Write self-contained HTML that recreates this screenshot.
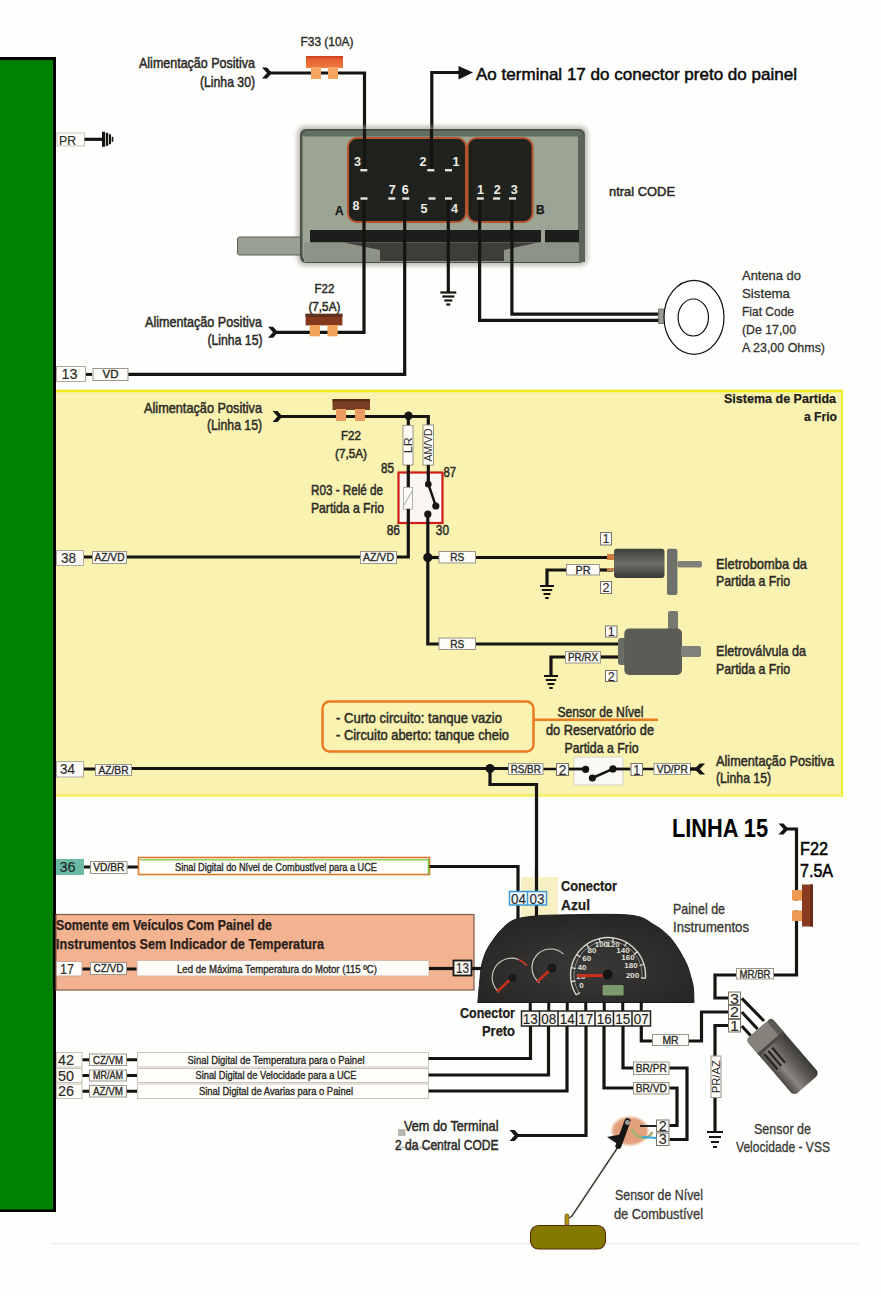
<!DOCTYPE html><html><head><meta charset="utf-8"><style>html,body{margin:0;padding:0;background:#fefefc;}svg{display:block;font-family:"Liberation Sans",sans-serif;}</style></head><body>
<svg width="881" height="1296" viewBox="0 0 881 1296">
<defs><linearGradient id="fuseR" x1="0" y1="0" x2="0" y2="1"><stop offset="0" stop-color="#e4552e"/><stop offset="1" stop-color="#f07a3c"/></linearGradient><linearGradient id="cyl" x1="0" y1="0" x2="0" y2="1"><stop offset="0" stop-color="#3c3e39"/><stop offset="0.5" stop-color="#6c6e67"/><stop offset="1" stop-color="#383a35"/></linearGradient><radialGradient id="dash" cx="0.5" cy="0.6" r="0.7"><stop offset="0" stop-color="#3a3937"/><stop offset="1" stop-color="#242322"/></radialGradient><linearGradient id="cyl2" x1="0" y1="0" x2="0" y2="1"><stop offset="0" stop-color="#3a3836"/><stop offset="0.35" stop-color="#5e5b57"/><stop offset="0.7" stop-color="#8a8680"/><stop offset="1" stop-color="#4a4744"/></linearGradient><filter id="blur2"><feGaussianBlur stdDeviation="2"/></filter><filter id="blur1"><feGaussianBlur stdDeviation="1"/></filter></defs>
<rect x="0" y="0" width="881" height="1296" fill="#fefefc"/>
<rect x="0" y="57" width="56" height="1155" fill="#000"/>
<rect x="0" y="60" width="53" height="1149.5" fill="#008000"/>
<rect x="57" y="133" width="27.5" height="13" fill="#fdfdfb" stroke="#c8c4bc" stroke-width="1"/>
<text x="59" y="144.5" font-size="13" fill="#2b2a26" stroke="#2b2a26" stroke-width="0.15" text-anchor="start" textLength="17" lengthAdjust="spacingAndGlyphs">PR</text>
<line x1="84.5" y1="139.3" x2="103" y2="139.3" stroke="#151412" stroke-width="3.2" stroke-linecap="butt"/>
<line x1="103.5" y1="131.8" x2="103.5" y2="146.8" stroke="#151412" stroke-width="3" stroke-linecap="butt"/>
<line x1="107" y1="132.8" x2="107" y2="145.8" stroke="#151412" stroke-width="2.5" stroke-linecap="butt"/>
<line x1="110" y1="134.3" x2="110" y2="144.3" stroke="#151412" stroke-width="2" stroke-linecap="butt"/>
<line x1="112.5" y1="136.8" x2="112.5" y2="141.8" stroke="#151412" stroke-width="1.6" stroke-linecap="butt"/>
<text x="300.5" y="45.8" font-size="12" fill="#2b2a26" stroke="#2b2a26" stroke-width="0.35" text-anchor="start" textLength="53" lengthAdjust="spacingAndGlyphs">F33 (10A)</text>
<text x="139" y="68" font-size="14.5" fill="#2b2a26" stroke="#2b2a26" stroke-width="0.5" text-anchor="start" textLength="116" lengthAdjust="spacingAndGlyphs">Alimentação Positiva</text>
<text x="200" y="87" font-size="14.5" fill="#2b2a26" stroke="#2b2a26" stroke-width="0.5" text-anchor="start" textLength="55" lengthAdjust="spacingAndGlyphs">(Linha 30)</text>
<polyline points="268,73 364.5,73 364.5,168" fill="none" stroke="#151412" stroke-width="3.2" stroke-linejoin="miter" stroke-linecap="butt"/>
<path d="M262,67.5 L267,67.5 L272,73 L267,78.5 L262,78.5 L267,73 Z" fill="#151412"/>
<rect x="306" y="56" width="37" height="12" fill="url(#fuseR)"/>
<rect x="306" y="56" width="37" height="2" fill="#d24522"/>
<rect x="311" y="67" width="10" height="12" fill="#f4a660"/>
<rect x="328" y="67" width="10" height="12" fill="#f4a660"/>
<polyline points="431.8,168 431.8,72.5 460,72.5" fill="none" stroke="#151412" stroke-width="3.2" stroke-linejoin="miter" stroke-linecap="butt"/>
<path d="M458.5,66 L473,72.5 L458.5,79.5 Z" fill="#151412"/>
<text x="476" y="80.2" font-size="17" fill="#0a0a0a" stroke="#0a0a0a" stroke-width="0.5" text-anchor="start" textLength="321" lengthAdjust="spacingAndGlyphs">Ao terminal 17 do conector preto do painel</text>
<rect x="297" y="126" width="291" height="140" rx="8" fill="#9a948e" filter="url(#blur2)" opacity="0.6"/>
<rect x="237.5" y="237" width="66.5" height="18" fill="#9aa192" stroke="#5b6055" stroke-width="1" rx="2"/>
<rect x="300" y="129" width="285" height="134" rx="6" fill="#4a5447"/>
<rect x="302.5" y="131.5" width="280" height="129" rx="5" fill="#9ca494"/>
<rect x="302.5" y="131.5" width="280" height="5" rx="3" fill="#5f6d5e"/>
<rect x="578" y="135" width="7" height="127" fill="#5e635a"/>
<rect x="348" y="138" width="118" height="84" rx="9" fill="#1f201c" stroke="#b4552e" stroke-width="2"/>
<rect x="467.5" y="138" width="65" height="84" rx="9" fill="#1f201c" stroke="#b4552e" stroke-width="2"/>
<rect x="352" y="142" width="110" height="76" fill="#20221e"/>
<rect x="472" y="142" width="57" height="76" fill="#20221e"/>
<rect x="310" y="230" width="231" height="12.5" fill="#1d1e1b"/>
<rect x="545" y="230" width="34" height="12.5" fill="#1d1e1b"/>
<rect x="304" y="242.5" width="275" height="19.5" fill="#8d9386"/>
<path d="M344,242.5 L538,242.5 L504,250 L504,261 L380,261 L380,250 Z" fill="#3e3d38"/>
<polyline points="364,198 364,332.3 274,332.3" fill="none" stroke="#151412" stroke-width="3.2" stroke-linejoin="miter" stroke-linecap="butt"/>
<path d="M268,326.8 L273,326.8 L278,332.3 L273,337.8 L268,337.8 L273,332.3 Z" fill="#151412"/>
<polyline points="404.7,198 404.7,374.4 128,374.4" fill="none" stroke="#151412" stroke-width="3.2" stroke-linejoin="miter" stroke-linecap="butt"/>
<polyline points="448.3,198 448.3,292" fill="none" stroke="#151412" stroke-width="3.2" stroke-linejoin="miter" stroke-linecap="butt"/>
<line x1="440.3" y1="292.5" x2="456.3" y2="292.5" stroke="#151412" stroke-width="2.2" stroke-linecap="butt"/>
<line x1="442.3" y1="296.5" x2="454.3" y2="296.5" stroke="#151412" stroke-width="2.2" stroke-linecap="butt"/>
<line x1="444.3" y1="300.5" x2="452.3" y2="300.5" stroke="#151412" stroke-width="2.2" stroke-linecap="butt"/>
<line x1="446.3" y1="304.5" x2="450.3" y2="304.5" stroke="#151412" stroke-width="2.2" stroke-linecap="butt"/>
<polyline points="479.6,198 479.6,320.3 660,320.3" fill="none" stroke="#151412" stroke-width="3.2" stroke-linejoin="miter" stroke-linecap="butt"/>
<polyline points="511.9,198 511.9,314.2 660,314.2" fill="none" stroke="#151412" stroke-width="3.2" stroke-linejoin="miter" stroke-linecap="butt"/>
<polyline points="364.5,129 364.5,170" fill="none" stroke="#151412" stroke-width="3.2" stroke-linejoin="miter" stroke-linecap="butt"/>
<polyline points="431.5,129 431.5,170" fill="none" stroke="#151412" stroke-width="3.2" stroke-linejoin="miter" stroke-linecap="butt"/>
<rect x="360.3" y="169.0" width="7.0" height="2.3999999999999773" fill="#e4e4dc"/>
<rect x="427.3" y="169.0" width="7.0" height="2.3999999999999773" fill="#e4e4dc"/>
<rect x="445.0" y="169.0" width="7.0" height="2.3999999999999773" fill="#e4e4dc"/>
<rect x="360.5" y="197.3" width="7.0" height="2.3999999999999773" fill="#e4e4dc"/>
<rect x="388.3" y="197.3" width="7.0" height="2.3999999999999773" fill="#e4e4dc"/>
<rect x="402.3" y="197.3" width="7.0" height="2.3999999999999773" fill="#e4e4dc"/>
<rect x="428.5" y="197.3" width="7.0" height="2.3999999999999773" fill="#e4e4dc"/>
<rect x="445.0" y="197.3" width="7.0" height="2.3999999999999773" fill="#e4e4dc"/>
<rect x="476.8" y="197.3" width="7.0" height="2.3999999999999773" fill="#e4e4dc"/>
<rect x="493.1" y="197.3" width="7.0" height="2.3999999999999773" fill="#e4e4dc"/>
<rect x="509.0" y="197.3" width="7.0" height="2.3999999999999773" fill="#e4e4dc"/>
<text x="354" y="165.6" font-size="12.5" font-weight="bold" fill="#eeeee6" text-anchor="start" textLength="7" lengthAdjust="spacingAndGlyphs">3</text>
<text x="419.5" y="165.6" font-size="12.5" font-weight="bold" fill="#eeeee6" text-anchor="start" textLength="7" lengthAdjust="spacingAndGlyphs">2</text>
<text x="452.4" y="165.6" font-size="12.5" font-weight="bold" fill="#eeeee6" text-anchor="start" textLength="7" lengthAdjust="spacingAndGlyphs">1</text>
<text x="388.8" y="193.6" font-size="12.5" font-weight="bold" fill="#eeeee6" text-anchor="start" textLength="7" lengthAdjust="spacingAndGlyphs">7</text>
<text x="401.7" y="193.6" font-size="12.5" font-weight="bold" fill="#eeeee6" text-anchor="start" textLength="7" lengthAdjust="spacingAndGlyphs">6</text>
<text x="352.5" y="210" font-size="12.5" font-weight="bold" fill="#eeeee6" text-anchor="start" textLength="7" lengthAdjust="spacingAndGlyphs">8</text>
<text x="420.6" y="213.3" font-size="12.5" font-weight="bold" fill="#eeeee6" text-anchor="start" textLength="7" lengthAdjust="spacingAndGlyphs">5</text>
<text x="451" y="213.3" font-size="12.5" font-weight="bold" fill="#eeeee6" text-anchor="start" textLength="7" lengthAdjust="spacingAndGlyphs">4</text>
<text x="477" y="193.6" font-size="12.5" font-weight="bold" fill="#eeeee6" text-anchor="start" textLength="7" lengthAdjust="spacingAndGlyphs">1</text>
<text x="493.7" y="193.6" font-size="12.5" font-weight="bold" fill="#eeeee6" text-anchor="start" textLength="7" lengthAdjust="spacingAndGlyphs">2</text>
<text x="510.7" y="193.6" font-size="12.5" font-weight="bold" fill="#eeeee6" text-anchor="start" textLength="7" lengthAdjust="spacingAndGlyphs">3</text>
<text x="335" y="215" font-size="12" font-weight="bold" fill="#1a1a18" stroke="#1a1a18" stroke-width="0.25" text-anchor="start">A</text>
<text x="536" y="214" font-size="12" font-weight="bold" fill="#1a1a18" stroke="#1a1a18" stroke-width="0.25" text-anchor="start">B</text>
<text x="609" y="196" font-size="13" fill="#2b2a26" stroke="#2b2a26" stroke-width="0.5" text-anchor="start" textLength="66" lengthAdjust="spacingAndGlyphs">ntral CODE</text>
<text x="314.5" y="292.7" font-size="13" fill="#2b2a26" stroke="#2b2a26" stroke-width="0.5" text-anchor="start" textLength="19.8" lengthAdjust="spacingAndGlyphs">F22</text>
<text x="308.4" y="310.7" font-size="13" fill="#2b2a26" stroke="#2b2a26" stroke-width="0.5" text-anchor="start" textLength="32" lengthAdjust="spacingAndGlyphs">(7,5A)</text>
<rect x="305.6" y="313.8" width="36.799999999999955" height="11.599999999999966" fill="#84391f"/>
<rect x="305.6" y="313.8" width="36.799999999999955" height="3.1999999999999886" fill="#5e3020"/>
<rect x="309.7" y="325" width="10.300000000000011" height="11.300000000000011" fill="#f0a458"/>
<rect x="327.4" y="325" width="10.300000000000011" height="11.300000000000011" fill="#f0a458"/>
<text x="145" y="326.5" font-size="14.5" fill="#2b2a26" stroke="#2b2a26" stroke-width="0.5" text-anchor="start" textLength="117" lengthAdjust="spacingAndGlyphs">Alimentação Positiva</text>
<text x="207.5" y="344.5" font-size="14.5" fill="#2b2a26" stroke="#2b2a26" stroke-width="0.5" text-anchor="start" textLength="55" lengthAdjust="spacingAndGlyphs">(Linha 15)</text>
<rect x="658.5" y="309" width="6" height="14.5" fill="#9a9a94" stroke="#666" stroke-width="0.8"/>
<ellipse cx="694" cy="317.3" rx="30" ry="37" fill="#fff" stroke="#111" stroke-width="1.2"/>
<ellipse cx="693.3" cy="317.5" rx="15.2" ry="18.5" fill="#fff" stroke="#111" stroke-width="1.2"/>
<text x="742" y="279.5" font-size="13.5" fill="#33322e" stroke="#33322e" stroke-width="0.3" text-anchor="start" textLength="59" lengthAdjust="spacingAndGlyphs">Antena do</text>
<text x="742" y="297.7" font-size="13.5" fill="#33322e" stroke="#33322e" stroke-width="0.3" text-anchor="start" textLength="48" lengthAdjust="spacingAndGlyphs">Sistema</text>
<text x="742" y="315.9" font-size="13.5" fill="#33322e" stroke="#33322e" stroke-width="0.3" text-anchor="start" textLength="52" lengthAdjust="spacingAndGlyphs">Fiat Code</text>
<text x="742" y="334.1" font-size="13.5" fill="#33322e" stroke="#33322e" stroke-width="0.3" text-anchor="start" textLength="54" lengthAdjust="spacingAndGlyphs">(De 17,00</text>
<text x="742" y="352.3" font-size="13.5" fill="#33322e" stroke="#33322e" stroke-width="0.3" text-anchor="start" textLength="83" lengthAdjust="spacingAndGlyphs">A 23,00 Ohms)</text>
<rect x="56.5" y="366.5" width="29.0" height="15.0" fill="#fdfcf6" stroke="#b0aca0" stroke-width="1"/>
<text x="69.5" y="379.4" font-size="15" fill="#2b2a26" stroke="#2b2a26" stroke-width="0.15" text-anchor="middle" textLength="16" lengthAdjust="spacingAndGlyphs">13</text>
<line x1="86" y1="374.4" x2="92" y2="374.4" stroke="#151412" stroke-width="3" stroke-linecap="butt"/>
<rect x="93.0" y="368.5" width="35.0" height="12.0" fill="#fdfcf6" stroke="#9a968c" stroke-width="1"/>
<text x="110.5" y="378.46" font-size="11" fill="#2b2a26" stroke="#2b2a26" stroke-width="0.35" text-anchor="middle" textLength="16" lengthAdjust="spacingAndGlyphs">VD</text>
<rect x="56" y="390" width="786" height="406" fill="#f9f2b0"/>
<line x1="56" y1="391" x2="843" y2="391" stroke="#f0ec1c" stroke-width="2.6" stroke-linecap="butt"/>
<line x1="842" y1="390" x2="842" y2="797" stroke="#f0ec30" stroke-width="2.2" stroke-linecap="butt"/>
<line x1="56" y1="795.5" x2="843" y2="795.5" stroke="#f1ec60" stroke-width="2.6" stroke-linecap="butt"/>
<text x="724" y="403" font-size="13" font-weight="bold" fill="#1e1d1a" stroke="#1e1d1a" stroke-width="0.25" text-anchor="start" textLength="112" lengthAdjust="spacingAndGlyphs">Sistema de Partida</text>
<text x="804" y="421" font-size="13" font-weight="bold" fill="#1e1d1a" stroke="#1e1d1a" stroke-width="0.25" text-anchor="start" textLength="33" lengthAdjust="spacingAndGlyphs">a Frio</text>
<text x="144" y="413" font-size="14.5" fill="#2b2a26" stroke="#2b2a26" stroke-width="0.5" text-anchor="start" textLength="118" lengthAdjust="spacingAndGlyphs">Alimentação Positiva</text>
<text x="207" y="430" font-size="14.5" fill="#2b2a26" stroke="#2b2a26" stroke-width="0.5" text-anchor="start" textLength="55" lengthAdjust="spacingAndGlyphs">(Linha 15)</text>
<polyline points="278,416.5 408.5,416.5 428.3,416.5 428.3,425" fill="none" stroke="#151412" stroke-width="3.2" stroke-linejoin="miter" stroke-linecap="butt"/>
<path d="M272.5,411.0 L277.5,411.0 L282.5,416.5 L277.5,422.0 L272.5,422.0 L277.5,416.5 Z" fill="#151412"/>
<polyline points="408.3,416 408.3,425" fill="none" stroke="#151412" stroke-width="3.2" stroke-linejoin="miter" stroke-linecap="butt"/>
<rect x="332.5" y="399" width="37.5" height="11" fill="#7a3f24"/>
<rect x="332.5" y="399" width="37.5" height="2.5" fill="#5a2c16"/>
<rect x="336" y="409" width="10" height="12" fill="#eb9c62"/>
<rect x="355" y="409" width="10" height="12" fill="#eb9c62"/>
<circle cx="408.5" cy="415.8" r="4.2" fill="#151412"/>
<text x="341" y="440" font-size="13" fill="#2b2a26" stroke="#2b2a26" stroke-width="0.5" text-anchor="start" textLength="20" lengthAdjust="spacingAndGlyphs">F22</text>
<text x="335" y="458" font-size="13" fill="#2b2a26" stroke="#2b2a26" stroke-width="0.5" text-anchor="start" textLength="32" lengthAdjust="spacingAndGlyphs">(7,5A)</text>
<rect x="403.0" y="425.5" width="10.0" height="39.5" fill="#fdfcf6" stroke="#9a968c" stroke-width="1"/>
<text transform="translate(411.78,445.25) rotate(-90)" font-size="10.5" fill="#2b2a26" text-anchor="middle" textLength="16" lengthAdjust="spacingAndGlyphs">LR</text>
<rect x="423.0" y="425.0" width="10.5" height="40.0" fill="#fdfcf6" stroke="#9a968c" stroke-width="1"/>
<text transform="translate(432.03,445.0) rotate(-90)" font-size="10.5" fill="#2b2a26" text-anchor="middle" textLength="33" lengthAdjust="spacingAndGlyphs">AM/VD</text>
<text x="381" y="472.5" font-size="14" fill="#2b2a26" stroke="#2b2a26" stroke-width="0.5" text-anchor="start" textLength="13" lengthAdjust="spacingAndGlyphs">85</text>
<text x="443.4" y="476.5" font-size="14" fill="#2b2a26" stroke="#2b2a26" stroke-width="0.5" text-anchor="start" textLength="12.5" lengthAdjust="spacingAndGlyphs">87</text>
<text x="386.7" y="535.2" font-size="14" fill="#2b2a26" stroke="#2b2a26" stroke-width="0.5" text-anchor="start" textLength="13.3" lengthAdjust="spacingAndGlyphs">86</text>
<text x="435.8" y="535.2" font-size="14" fill="#2b2a26" stroke="#2b2a26" stroke-width="0.5" text-anchor="start" textLength="13.2" lengthAdjust="spacingAndGlyphs">30</text>
<text x="311" y="495" font-size="14.5" fill="#2b2a26" stroke="#2b2a26" stroke-width="0.5" text-anchor="start" textLength="72" lengthAdjust="spacingAndGlyphs">R03 - Relé de</text>
<text x="311" y="513" font-size="14.5" fill="#2b2a26" stroke="#2b2a26" stroke-width="0.5" text-anchor="start" textLength="73" lengthAdjust="spacingAndGlyphs">Partida a Frio</text>
<rect x="398.5" y="472.5" width="44.0" height="50.5" fill="#faf6f4" stroke="#d01c18" stroke-width="2.2"/>
<polyline points="408.3,465 408.3,487.5" fill="none" stroke="#151412" stroke-width="3.2" stroke-linejoin="miter" stroke-linecap="butt"/>
<polyline points="428.3,465 428.3,484" fill="none" stroke="#151412" stroke-width="3.2" stroke-linejoin="miter" stroke-linecap="butt"/>
<rect x="403.5" y="487.5" width="9" height="21.5" fill="#fdfcf8" stroke="#aaa" stroke-width="0.9"/>
<line x1="404" y1="505" x2="412" y2="491" stroke="#999" stroke-width="0.9" stroke-linecap="butt"/>
<polyline points="408.3,509 408.3,557 397,557" fill="none" stroke="#151412" stroke-width="3.2" stroke-linejoin="miter" stroke-linecap="butt"/>
<circle cx="428.3" cy="484.2" r="3.3" fill="#151412"/>
<line x1="428.5" y1="484.5" x2="435.8" y2="506" stroke="#151412" stroke-width="2.4" stroke-linecap="butt"/>
<circle cx="435.8" cy="506" r="3.6" fill="#151412"/>
<circle cx="427.8" cy="514.2" r="3.6" fill="#151412"/>
<polyline points="427.8,514 427.8,644 439,644" fill="none" stroke="#151412" stroke-width="3.2" stroke-linejoin="miter" stroke-linecap="butt"/>
<circle cx="427.8" cy="557.5" r="4.6" fill="#151412"/>
<polyline points="183,557 360,557" fill="none" stroke="#151412" stroke-width="3.2" stroke-linejoin="miter" stroke-linecap="butt"/>
<rect x="56.5" y="550.5" width="27.0" height="15.0" fill="#fdfcf6" stroke="#b0aca0" stroke-width="1"/>
<text x="68.5" y="563.04" font-size="14" fill="#2b2a26" stroke="#2b2a26" stroke-width="0.15" text-anchor="middle" textLength="15" lengthAdjust="spacingAndGlyphs">38</text>
<line x1="84" y1="557" x2="92" y2="557" stroke="#151412" stroke-width="3" stroke-linecap="butt"/>
<rect x="92.5" y="551.5" width="34.0" height="12.0" fill="#fdfcf6" stroke="#9a968c" stroke-width="1"/>
<text x="109.5" y="561.46" font-size="11" fill="#2b2a26" stroke="#2b2a26" stroke-width="0.35" text-anchor="middle" textLength="30" lengthAdjust="spacingAndGlyphs">AZ/VD</text>
<polyline points="127,557 183,557" fill="none" stroke="#151412" stroke-width="3.2" stroke-linejoin="miter" stroke-linecap="butt"/>
<rect x="360.5" y="551.5" width="36.0" height="12.0" fill="#fdfcf6" stroke="#9a968c" stroke-width="1"/>
<text x="378.5" y="561.46" font-size="11" fill="#2b2a26" stroke="#2b2a26" stroke-width="0.35" text-anchor="middle" textLength="31" lengthAdjust="spacingAndGlyphs">AZ/VD</text>
<polyline points="427.8,557.5 439,557.5" fill="none" stroke="#151412" stroke-width="3.2" stroke-linejoin="miter" stroke-linecap="butt"/>
<rect x="439.0" y="551.5" width="36.5" height="11.5" fill="#fdfcf6" stroke="#9a968c" stroke-width="1"/>
<text x="457.25" y="561.39" font-size="11.5" fill="#2b2a26" stroke="#2b2a26" stroke-width="0.35" text-anchor="middle" textLength="14" lengthAdjust="spacingAndGlyphs">RS</text>
<polyline points="476,557.5 613,557.5" fill="none" stroke="#151412" stroke-width="3.2" stroke-linejoin="miter" stroke-linecap="butt"/>
<rect x="600.5" y="532.5" width="11.0" height="12.5" fill="#fdfcf6" stroke="#77736a" stroke-width="1"/>
<text x="606.0" y="543.43" font-size="13" fill="#2b2a26" stroke="#2b2a26" stroke-width="0.1" text-anchor="middle" textLength="7" lengthAdjust="spacingAndGlyphs">1</text>
<rect x="600.5" y="581.5" width="11.0" height="12.0" fill="#fdfcf6" stroke="#77736a" stroke-width="1"/>
<text x="606.0" y="592.18" font-size="13" fill="#2b2a26" stroke="#2b2a26" stroke-width="0.1" text-anchor="middle" textLength="7" lengthAdjust="spacingAndGlyphs">2</text>
<rect x="566.5" y="564.5" width="33.0" height="10.5" fill="#fdfcf6" stroke="#9a968c" stroke-width="1"/>
<text x="583.0" y="573.71" font-size="11" fill="#2b2a26" stroke="#2b2a26" stroke-width="0.35" text-anchor="middle" textLength="15" lengthAdjust="spacingAndGlyphs">PR</text>
<polyline points="600,570 613,570" fill="none" stroke="#151412" stroke-width="3.2" stroke-linejoin="miter" stroke-linecap="butt"/>
<polyline points="566,570 547,570 547,585" fill="none" stroke="#151412" stroke-width="3.2" stroke-linejoin="miter" stroke-linecap="butt"/>
<line x1="540.0" y1="586" x2="554.0" y2="586" stroke="#151412" stroke-width="2" stroke-linecap="butt"/>
<line x1="541.75" y1="590" x2="552.25" y2="590" stroke="#151412" stroke-width="2" stroke-linecap="butt"/>
<line x1="543.5" y1="594" x2="550.5" y2="594" stroke="#151412" stroke-width="2" stroke-linecap="butt"/>
<line x1="545.25" y1="598" x2="548.75" y2="598" stroke="#151412" stroke-width="2" stroke-linecap="butt"/>
<rect x="607" y="554" width="7" height="6" fill="#d07a40"/>
<rect x="607" y="568" width="7" height="3" fill="#c08048"/>
<rect x="614" y="548.8" width="50.5" height="29.2" rx="3" fill="url(#cyl)"/>
<rect x="667" y="548.8" width="10.4" height="46.2" rx="2" fill="#6e706a"/>
<rect x="677.4" y="561" width="24.6" height="6.4" rx="2" fill="#80817a"/>
<text x="716" y="569" font-size="14.5" fill="#2b2a26" stroke="#2b2a26" stroke-width="0.5" text-anchor="start" textLength="91" lengthAdjust="spacingAndGlyphs">Eletrobomba da</text>
<text x="716" y="586" font-size="14.5" fill="#2b2a26" stroke="#2b2a26" stroke-width="0.5" text-anchor="start" textLength="74" lengthAdjust="spacingAndGlyphs">Partida a Frio</text>
<rect x="605.5" y="626.0" width="11.5" height="11.0" fill="#fdfcf6" stroke="#77736a" stroke-width="1"/>
<text x="611.25" y="636.18" font-size="13" fill="#2b2a26" stroke="#2b2a26" stroke-width="0.1" text-anchor="middle" textLength="7" lengthAdjust="spacingAndGlyphs">1</text>
<rect x="605.5" y="670.5" width="11.5" height="11.0" fill="#fdfcf6" stroke="#77736a" stroke-width="1"/>
<text x="611.25" y="680.68" font-size="13" fill="#2b2a26" stroke="#2b2a26" stroke-width="0.1" text-anchor="middle" textLength="7" lengthAdjust="spacingAndGlyphs">2</text>
<polyline points="476,644 621,644" fill="none" stroke="#151412" stroke-width="3.2" stroke-linejoin="miter" stroke-linecap="butt"/>
<rect x="439.0" y="638.0" width="36.5" height="11.5" fill="#fdfcf6" stroke="#9a968c" stroke-width="1"/>
<text x="457.25" y="647.89" font-size="11.5" fill="#2b2a26" stroke="#2b2a26" stroke-width="0.35" text-anchor="middle" textLength="14" lengthAdjust="spacingAndGlyphs">RS</text>
<rect x="565.5" y="651.5" width="35.0" height="11.5" fill="#fdfcf6" stroke="#9a968c" stroke-width="1"/>
<text x="583.0" y="661.21" font-size="11" fill="#2b2a26" stroke="#2b2a26" stroke-width="0.35" text-anchor="middle" textLength="30" lengthAdjust="spacingAndGlyphs">PR/RX</text>
<polyline points="601,657 621,657" fill="none" stroke="#151412" stroke-width="3.2" stroke-linejoin="miter" stroke-linecap="butt"/>
<polyline points="565,657 551,657 551,675" fill="none" stroke="#151412" stroke-width="3.2" stroke-linejoin="miter" stroke-linecap="butt"/>
<line x1="544.0" y1="676" x2="558.0" y2="676" stroke="#151412" stroke-width="2" stroke-linecap="butt"/>
<line x1="545.75" y1="680" x2="556.25" y2="680" stroke="#151412" stroke-width="2" stroke-linecap="butt"/>
<line x1="547.5" y1="684" x2="554.5" y2="684" stroke="#151412" stroke-width="2" stroke-linecap="butt"/>
<line x1="549.25" y1="688" x2="552.75" y2="688" stroke="#151412" stroke-width="2" stroke-linecap="butt"/>
<rect x="618" y="638" width="9" height="27" rx="3" fill="#6a6c66"/>
<rect x="668" y="611" width="10" height="20" rx="2" fill="#77786f"/>
<rect x="624.3" y="628.5" width="57.7" height="46.5" rx="5" fill="#5a5c55"/>
<rect x="681" y="646" width="20" height="11" rx="2" fill="#80817a"/>
<text x="716" y="656" font-size="14.5" fill="#2b2a26" stroke="#2b2a26" stroke-width="0.5" text-anchor="start" textLength="90" lengthAdjust="spacingAndGlyphs">Eletroválvula da</text>
<text x="716" y="674" font-size="14.5" fill="#2b2a26" stroke="#2b2a26" stroke-width="0.5" text-anchor="start" textLength="74" lengthAdjust="spacingAndGlyphs">Partida a Frio</text>
<rect x="322.5" y="701.5" width="211" height="50" rx="7" fill="none" stroke="#ec7a1e" stroke-width="2.5"/>
<line x1="533" y1="719.8" x2="658" y2="719.8" stroke="#ec7a1e" stroke-width="2.6" stroke-linecap="butt"/>
<text x="336" y="723" font-size="14.5" fill="#2b2a26" stroke="#2b2a26" stroke-width="0.5" text-anchor="start" textLength="166" lengthAdjust="spacingAndGlyphs">- Curto circuito: tanque vazio</text>
<text x="336" y="739.5" font-size="14.5" fill="#2b2a26" stroke="#2b2a26" stroke-width="0.5" text-anchor="start" textLength="173" lengthAdjust="spacingAndGlyphs">- Circuito aberto: tanque cheio</text>
<text x="557.5" y="716.5" font-size="14.5" fill="#2b2a26" stroke="#2b2a26" stroke-width="0.5" text-anchor="start" textLength="86" lengthAdjust="spacingAndGlyphs">Sensor de Nível</text>
<text x="546" y="735.3" font-size="14.5" fill="#2b2a26" stroke="#2b2a26" stroke-width="0.5" text-anchor="start" textLength="108" lengthAdjust="spacingAndGlyphs">do Reservatório de</text>
<text x="564.5" y="753" font-size="14.5" fill="#2b2a26" stroke="#2b2a26" stroke-width="0.5" text-anchor="start" textLength="74" lengthAdjust="spacingAndGlyphs">Partida a Frio</text>
<rect x="56.5" y="761.5" width="27.0" height="15.5" fill="#fdfcf6" stroke="#b0aca0" stroke-width="1"/>
<text x="67.5" y="774.29" font-size="14" fill="#2b2a26" stroke="#2b2a26" stroke-width="0.15" text-anchor="middle" textLength="15" lengthAdjust="spacingAndGlyphs">34</text>
<line x1="84" y1="769" x2="95" y2="769" stroke="#151412" stroke-width="3" stroke-linecap="butt"/>
<rect x="95.5" y="764.5" width="36.0" height="11.0" fill="#fdfcf6" stroke="#9a968c" stroke-width="1"/>
<text x="113.5" y="773.96" font-size="11" fill="#2b2a26" stroke="#2b2a26" stroke-width="0.35" text-anchor="middle" textLength="30" lengthAdjust="spacingAndGlyphs">AZ/BR</text>
<polyline points="132,768.5 508,768.5" fill="none" stroke="#151412" stroke-width="3.2" stroke-linejoin="miter" stroke-linecap="butt"/>
<circle cx="490" cy="768.5" r="4.5" fill="#151412"/>
<polyline points="490,768.5 490,784.5 536.5,784.5 536.5,920" fill="none" stroke="#151412" stroke-width="3.2" stroke-linejoin="miter" stroke-linecap="butt"/>
<rect x="508.5" y="763.5" width="34.5" height="11.0" fill="#fdfcf6" stroke="#9a968c" stroke-width="1"/>
<text x="525.75" y="772.96" font-size="11" fill="#2b2a26" stroke="#2b2a26" stroke-width="0.35" text-anchor="middle" textLength="30" lengthAdjust="spacingAndGlyphs">RS/BR</text>
<line x1="543.5" y1="769" x2="556" y2="769" stroke="#151412" stroke-width="2.5" stroke-linecap="butt"/>
<rect x="556.5" y="763.5" width="12.0" height="12.0" fill="#fdfcf6" stroke="#77736a" stroke-width="1"/>
<text x="562.5" y="774.72" font-size="14.5" fill="#2b2a26" stroke="#2b2a26" stroke-width="0.1" text-anchor="middle" textLength="8" lengthAdjust="spacingAndGlyphs">2</text>
<rect x="574" y="757" width="49" height="28" fill="#fbfaf4" stroke="#d8d4c4" stroke-width="1"/>
<line x1="569" y1="769" x2="585.6" y2="769" stroke="#151412" stroke-width="2.8" stroke-linecap="butt"/>
<circle cx="585.6" cy="769.3" r="3.6" fill="#151412"/>
<circle cx="592.4" cy="778" r="3.6" fill="#151412"/>
<line x1="592.4" y1="778" x2="612.9" y2="768.9" stroke="#151412" stroke-width="2.5" stroke-linecap="butt"/>
<circle cx="612.9" cy="768.9" r="3.6" fill="#151412"/>
<line x1="612.9" y1="769" x2="630.5" y2="769" stroke="#151412" stroke-width="2.8" stroke-linecap="butt"/>
<rect x="631.0" y="763.5" width="11.5" height="12.0" fill="#fdfcf6" stroke="#77736a" stroke-width="1"/>
<text x="636.75" y="774.72" font-size="14.5" fill="#2b2a26" stroke="#2b2a26" stroke-width="0.1" text-anchor="middle" textLength="7" lengthAdjust="spacingAndGlyphs">1</text>
<line x1="643" y1="769" x2="654" y2="769" stroke="#151412" stroke-width="2.5" stroke-linecap="butt"/>
<rect x="654.0" y="763.5" width="36.5" height="11.0" fill="#fdfcf6" stroke="#9a968c" stroke-width="1"/>
<text x="672.25" y="772.96" font-size="11" fill="#2b2a26" stroke="#2b2a26" stroke-width="0.35" text-anchor="middle" textLength="31" lengthAdjust="spacingAndGlyphs">VD/PR</text>
<line x1="690" y1="769" x2="700" y2="769" stroke="#151412" stroke-width="3.5" stroke-linecap="butt"/>
<path d="M705.1,763.5 L699.8,763.5 L694.5,769 L699.8,774.5 L705.1,774.5 L699.8,769 Z" fill="#151412"/>
<text x="716" y="766" font-size="14.5" fill="#2b2a26" stroke="#2b2a26" stroke-width="0.5" text-anchor="start" textLength="118" lengthAdjust="spacingAndGlyphs">Alimentação Positiva</text>
<text x="716" y="783" font-size="14.5" fill="#2b2a26" stroke="#2b2a26" stroke-width="0.5" text-anchor="start" textLength="55" lengthAdjust="spacingAndGlyphs">(Linha 15)</text>
<rect x="56" y="859" width="28" height="16" fill="#6cbaa6"/>
<text x="67.5" y="872" font-size="14" fill="#1e2a28" stroke="#1e2a28" stroke-width="0.15" text-anchor="middle" textLength="16" lengthAdjust="spacingAndGlyphs">36</text>
<line x1="84" y1="867" x2="90" y2="867" stroke="#151412" stroke-width="3" stroke-linecap="butt"/>
<rect x="90.5" y="861.5" width="36.5" height="12.0" fill="#fdfcf6" stroke="#9a968c" stroke-width="1"/>
<text x="108.75" y="871.46" font-size="11" fill="#2b2a26" stroke="#2b2a26" stroke-width="0.35" text-anchor="middle" textLength="31" lengthAdjust="spacingAndGlyphs">VD/BR</text>
<line x1="127.5" y1="867" x2="138" y2="867" stroke="#151412" stroke-width="3" stroke-linecap="butt"/>
<rect x="138.5" y="857.5" width="291" height="17" fill="#fffefa" stroke="#d8782a" stroke-width="1.6"/>
<line x1="140" y1="859.8" x2="428" y2="859.8" stroke="#7cc640" stroke-width="1.3" stroke-linecap="butt"/>
<line x1="428.5" y1="859" x2="428.5" y2="874" stroke="#7cc640" stroke-width="1.5" stroke-linecap="butt"/>
<text x="276" y="870.5" font-size="10.5" fill="#2b2a26" stroke="#2b2a26" stroke-width="0.35" text-anchor="middle" textLength="202" lengthAdjust="spacingAndGlyphs">Sinal Digital do Nível de Combustível para a UCE</text>
<rect x="521" y="877" width="37" height="40" fill="#f8f0c4"/>
<polyline points="536.5,870 536.5,920" fill="none" stroke="#151412" stroke-width="3.2" stroke-linejoin="miter" stroke-linecap="butt"/>
<polyline points="429.5,866.5 518,866.5 518,920" fill="none" stroke="#151412" stroke-width="3.2" stroke-linejoin="miter" stroke-linecap="butt"/>
<rect x="509.5" y="891.5" width="37.0" height="13.5" fill="#f4f8fa" stroke="#3a9ad8" stroke-width="1.5"/>
<line x1="527.5" y1="891.5" x2="527.5" y2="905" stroke="#3a9ad8" stroke-width="1.5" stroke-linecap="butt"/>
<text x="518.5" y="903.5" font-size="14" fill="#1e2a38" stroke="#1e2a38" stroke-width="0.1" text-anchor="middle" textLength="15" lengthAdjust="spacingAndGlyphs">04</text>
<text x="537" y="903.5" font-size="14" fill="#1e2a38" stroke="#1e2a38" stroke-width="0.1" text-anchor="middle" textLength="15" lengthAdjust="spacingAndGlyphs">03</text>
<text x="561" y="891" font-size="14" font-weight="bold" fill="#1e1d1a" stroke="#1e1d1a" stroke-width="0.25" text-anchor="start" textLength="56" lengthAdjust="spacingAndGlyphs">Conector</text>
<text x="561" y="910" font-size="14" font-weight="bold" fill="#1e1d1a" stroke="#1e1d1a" stroke-width="0.25" text-anchor="start" textLength="29" lengthAdjust="spacingAndGlyphs">Azul</text>
<text x="673" y="913.5" font-size="14.5" fill="#3a3934" stroke="#3a3934" stroke-width="0.35" text-anchor="start" textLength="52" lengthAdjust="spacingAndGlyphs">Painel de</text>
<text x="673" y="932" font-size="14.5" fill="#3a3934" stroke="#3a3934" stroke-width="0.35" text-anchor="start" textLength="76" lengthAdjust="spacingAndGlyphs">Instrumentos</text>
<rect x="56" y="914.5" width="418" height="75.5" fill="#f3b290" stroke="#7a5a48" stroke-width="1.2"/>
<text x="56" y="930" font-size="14" font-weight="bold" fill="#2a1e18" stroke="#2a1e18" stroke-width="0.25" text-anchor="start" textLength="216" lengthAdjust="spacingAndGlyphs">Somente em Veículos Com Painel de</text>
<text x="56" y="949" font-size="14" font-weight="bold" fill="#2a1e18" stroke="#2a1e18" stroke-width="0.25" text-anchor="start" textLength="268" lengthAdjust="spacingAndGlyphs">Instrumentos Sem Indicador de Temperatura</text>
<rect x="56.5" y="961.5" width="25.5" height="14.5" fill="#fffdf8" stroke="#c8a898" stroke-width="1"/>
<text x="67" y="973.79" font-size="14" fill="#2b2a26" stroke="#2b2a26" stroke-width="0.15" text-anchor="middle" textLength="14" lengthAdjust="spacingAndGlyphs">17</text>
<line x1="82.5" y1="969" x2="90" y2="969" stroke="#151412" stroke-width="3" stroke-linecap="butt"/>
<rect x="90.5" y="962.5" width="36.0" height="12.0" fill="#fffdf8" stroke="#9a968c" stroke-width="1"/>
<text x="108.5" y="972.46" font-size="11" fill="#2b2a26" stroke="#2b2a26" stroke-width="0.35" text-anchor="middle" textLength="30" lengthAdjust="spacingAndGlyphs">CZ/VD</text>
<line x1="127" y1="969" x2="137" y2="969" stroke="#151412" stroke-width="3" stroke-linecap="butt"/>
<rect x="137" y="960.5" width="292" height="15.5" fill="#fffdf8" stroke="#d8b8a8" stroke-width="1"/>
<text x="277" y="972.5" font-size="10.5" fill="#2b2a26" stroke="#2b2a26" stroke-width="0.35" text-anchor="middle" textLength="200" lengthAdjust="spacingAndGlyphs">Led de Máxima Temperatura do Motor (115 ºC)</text>
<polyline points="429,968.5 453,968.5" fill="none" stroke="#151412" stroke-width="3.2" stroke-linejoin="miter" stroke-linecap="butt"/>
<rect x="453.5" y="960.5" width="18.0" height="15.0" fill="#f8f4ee" stroke="#222" stroke-width="1"/>
<text x="462.5" y="973.04" font-size="14" fill="#2b2a26" stroke="#2b2a26" stroke-width="0.1" text-anchor="middle" textLength="13" lengthAdjust="spacingAndGlyphs">13</text>
<rect x="453.5" y="960.5" width="18.0" height="15.0" fill="none" stroke="#1a1a18" stroke-width="1.8"/>
<polyline points="472,968.5 482,968.5" fill="none" stroke="#151412" stroke-width="3.2" stroke-linejoin="miter" stroke-linecap="butt"/>
<rect x="56.5" y="1052.5" width="25.5" height="14.5" fill="#fdfcf6" stroke="#c8c4b8" stroke-width="1"/>
<text x="66" y="1064.79" font-size="14" fill="#2b2a26" stroke="#2b2a26" stroke-width="0.15" text-anchor="middle" textLength="16" lengthAdjust="spacingAndGlyphs">42</text>
<line x1="82.5" y1="1059.75" x2="89" y2="1059.75" stroke="#151412" stroke-width="3" stroke-linecap="butt"/>
<rect x="89.5" y="1054.0" width="37.0" height="11.5" fill="#fdfcf6" stroke="#9a968c" stroke-width="1"/>
<text x="108.0" y="1063.71" font-size="11" fill="#2b2a26" stroke="#2b2a26" stroke-width="0.35" text-anchor="middle" textLength="30" lengthAdjust="spacingAndGlyphs">CZ/VM</text>
<line x1="127" y1="1059.75" x2="137" y2="1059.75" stroke="#151412" stroke-width="3" stroke-linecap="butt"/>
<rect x="137.5" y="1052.5" width="291.0" height="14.5" fill="#fffefa" stroke="#c8c4b8" stroke-width="1"/>
<text x="276" y="1063.55" font-size="10.5" fill="#2b2a26" stroke="#2b2a26" stroke-width="0.35" text-anchor="middle" textLength="177" lengthAdjust="spacingAndGlyphs">Sinal Digital de Temperatura para o Painel</text>
<polyline points="428.5,1058.5 530.5,1058.5 530.5,1026" fill="none" stroke="#151412" stroke-width="3.2" stroke-linejoin="miter" stroke-linecap="butt"/>
<rect x="56.5" y="1068.5" width="25.5" height="14.0" fill="#fdfcf6" stroke="#c8c4b8" stroke-width="1"/>
<text x="66" y="1080.54" font-size="14" fill="#2b2a26" stroke="#2b2a26" stroke-width="0.15" text-anchor="middle" textLength="16" lengthAdjust="spacingAndGlyphs">50</text>
<line x1="82.5" y1="1075.5" x2="89" y2="1075.5" stroke="#151412" stroke-width="3" stroke-linecap="butt"/>
<rect x="89.5" y="1070.0" width="37.0" height="11.0" fill="#fdfcf6" stroke="#9a968c" stroke-width="1"/>
<text x="108.0" y="1079.46" font-size="11" fill="#2b2a26" stroke="#2b2a26" stroke-width="0.35" text-anchor="middle" textLength="30" lengthAdjust="spacingAndGlyphs">MR/AM</text>
<line x1="127" y1="1075.5" x2="137" y2="1075.5" stroke="#151412" stroke-width="3" stroke-linecap="butt"/>
<rect x="137.5" y="1068.5" width="291.0" height="14.0" fill="#fffefa" stroke="#c8c4b8" stroke-width="1"/>
<text x="276" y="1079.3" font-size="10.5" fill="#2b2a26" stroke="#2b2a26" stroke-width="0.35" text-anchor="middle" textLength="161" lengthAdjust="spacingAndGlyphs">Sinal Digital de Velocidade para a UCE</text>
<polyline points="428.5,1075 548.5,1075 548.5,1026" fill="none" stroke="#151412" stroke-width="3.2" stroke-linejoin="miter" stroke-linecap="butt"/>
<rect x="56.5" y="1084.0" width="25.5" height="14.5" fill="#fdfcf6" stroke="#c8c4b8" stroke-width="1"/>
<text x="66" y="1096.29" font-size="14" fill="#2b2a26" stroke="#2b2a26" stroke-width="0.15" text-anchor="middle" textLength="16" lengthAdjust="spacingAndGlyphs">26</text>
<line x1="82.5" y1="1091.25" x2="89" y2="1091.25" stroke="#151412" stroke-width="3" stroke-linecap="butt"/>
<rect x="89.5" y="1085.5" width="37.0" height="11.5" fill="#fdfcf6" stroke="#9a968c" stroke-width="1"/>
<text x="108.0" y="1095.21" font-size="11" fill="#2b2a26" stroke="#2b2a26" stroke-width="0.35" text-anchor="middle" textLength="30" lengthAdjust="spacingAndGlyphs">AZ/VM</text>
<line x1="127" y1="1091.25" x2="137" y2="1091.25" stroke="#151412" stroke-width="3" stroke-linecap="butt"/>
<rect x="137.5" y="1084.0" width="291.0" height="14.5" fill="#fffefa" stroke="#c8c4b8" stroke-width="1"/>
<text x="276" y="1095.05" font-size="10.5" fill="#2b2a26" stroke="#2b2a26" stroke-width="0.35" text-anchor="middle" textLength="154" lengthAdjust="spacingAndGlyphs">Sinal Digital de Avarias para o Painel</text>
<polyline points="428.5,1091 567,1091 567,1026" fill="none" stroke="#151412" stroke-width="3.2" stroke-linejoin="miter" stroke-linecap="butt"/>
<path d="M477.8,1002.5 C478.1,999.2 479.0,989.2 479.6,983 C480.2,976.8 480.6,970.3 481.7,965 C482.8,959.7 484.5,955.0 486.3,951 C488.1,947.0 490.1,944.1 492.5,940.7 C494.9,937.3 497.2,933.9 500.6,930.5 C504.0,927.1 507.6,922.7 513,920.3 C518.4,917.9 525.2,917.1 533,916.2 C540.8,915.3 543.8,915.2 560,915 C576.2,914.8 614.6,913.5 630.4,915.2 C646.2,916.9 648.7,922.0 655,925.4 C661.3,928.8 664.6,932.2 668.2,935.6 C671.8,939.0 674.0,942.5 676.4,945.9 C678.8,949.3 680.6,952.6 682.5,956 C684.4,959.4 686.2,962.9 687.6,966.3 C689.0,969.7 689.8,973.1 690.7,976.5 C691.6,979.9 692.7,982.4 693.2,986.7 C693.8,991.0 693.9,999.9 694,1002.5 Z" fill="url(#dash)" stroke="#1a1a19" stroke-width="1"/>
<path d="M499.1,992.3 A19.3,19.3 0 0 1 518.7,959.6" fill="none" stroke="#cfcfc8" stroke-width="1.1"/>
<path d="M518.7,959.6 A19.3,19.3 0 0 1 526.7,965.6" fill="none" stroke="#c83a28" stroke-width="2"/>
<line x1="512" y1="978" x2="497" y2="991.8" stroke="#c8301c" stroke-width="2.6" stroke-linecap="butt"/>
<circle cx="512.5" cy="978" r="4" fill="#1a1a18"/>
<path d="M539.5,982.7 A18.7,18.7 0 1 1 563.5,954.1" fill="none" stroke="#cfcfc8" stroke-width="1.1"/>
<line x1="552" y1="968" x2="537" y2="982" stroke="#c8301c" stroke-width="2.6" stroke-linecap="butt"/>
<circle cx="552" cy="968" r="4.5" fill="#1a1a18"/>
<path d="M576.2,994.9 A37.5,37.5 0 1 1 645.4,978.3" fill="none" stroke="#d8d8d0" stroke-width="1.4"/>
<path d="M579.2,993.0 A34,34 0 1 1 641.9,978.0" fill="none" stroke="#aaa" stroke-width="0.7"/>
<line x1="576.2" y1="994.9" x2="580.0" y2="992.5" stroke="#e8e8e0" stroke-width="1.2" stroke-linecap="butt"/>
<line x1="571.1" y1="981.7" x2="575.5" y2="980.9" stroke="#e8e8e0" stroke-width="1.2" stroke-linecap="butt"/>
<line x1="571.2" y1="967.6" x2="575.7" y2="968.5" stroke="#e8e8e0" stroke-width="1.2" stroke-linecap="butt"/>
<line x1="576.6" y1="954.5" x2="580.4" y2="957.0" stroke="#e8e8e0" stroke-width="1.2" stroke-linecap="butt"/>
<line x1="586.4" y1="944.4" x2="589.0" y2="948.0" stroke="#e8e8e0" stroke-width="1.2" stroke-linecap="butt"/>
<line x1="599.2" y1="938.5" x2="600.3" y2="942.9" stroke="#e8e8e0" stroke-width="1.2" stroke-linecap="butt"/>
<line x1="613.3" y1="937.9" x2="612.7" y2="942.3" stroke="#e8e8e0" stroke-width="1.2" stroke-linecap="butt"/>
<line x1="626.7" y1="942.5" x2="624.5" y2="946.4" stroke="#e8e8e0" stroke-width="1.2" stroke-linecap="butt"/>
<line x1="637.4" y1="951.7" x2="633.9" y2="954.5" stroke="#e8e8e0" stroke-width="1.2" stroke-linecap="butt"/>
<line x1="643.9" y1="964.2" x2="639.6" y2="965.5" stroke="#e8e8e0" stroke-width="1.2" stroke-linecap="butt"/>
<line x1="645.4" y1="978.3" x2="640.9" y2="977.9" stroke="#e8e8e0" stroke-width="1.2" stroke-linecap="butt"/>
<text x="581.6" y="988" font-size="8" font-weight="bold" fill="#e0e0d8" text-anchor="middle">0</text>
<text x="581" y="979" font-size="8" font-weight="bold" fill="#e0e0d8" text-anchor="middle">20</text>
<text x="582" y="970" font-size="8" font-weight="bold" fill="#e0e0d8" text-anchor="middle">40</text>
<text x="586.7" y="960.5" font-size="8" font-weight="bold" fill="#e0e0d8" text-anchor="middle">60</text>
<text x="592" y="953" font-size="8" font-weight="bold" fill="#e0e0d8" text-anchor="middle">80</text>
<text x="601.4" y="947.4" font-size="8" font-weight="bold" fill="#e0e0d8" text-anchor="middle">100</text>
<text x="613" y="947.4" font-size="8" font-weight="bold" fill="#e0e0d8" text-anchor="middle">120</text>
<text x="623" y="952.5" font-size="8" font-weight="bold" fill="#e0e0d8" text-anchor="middle">140</text>
<text x="628" y="960" font-size="8" font-weight="bold" fill="#e0e0d8" text-anchor="middle">160</text>
<text x="631" y="968.4" font-size="8" font-weight="bold" fill="#e0e0d8" text-anchor="middle">180</text>
<text x="632.6" y="977.5" font-size="8" font-weight="bold" fill="#e0e0d8" text-anchor="middle">200</text>
<line x1="607" y1="975.6" x2="577" y2="975.6" stroke="#c8301c" stroke-width="3" stroke-linecap="butt"/>
<circle cx="607.7" cy="974.5" r="5" fill="#151412"/>
<rect x="602.6" y="985" width="21.0" height="10.5" fill="#7c9a6c" rx="1"/>
<text x="460" y="1017.5" font-size="14" font-weight="bold" fill="#1e1d1a" stroke="#1e1d1a" stroke-width="0.25" text-anchor="start" textLength="55" lengthAdjust="spacingAndGlyphs">Conector</text>
<text x="482" y="1036" font-size="14" font-weight="bold" fill="#1e1d1a" stroke="#1e1d1a" stroke-width="0.25" text-anchor="start" textLength="33" lengthAdjust="spacingAndGlyphs">Preto</text>
<line x1="530.25" y1="1002" x2="530.25" y2="1011" stroke="#151412" stroke-width="3" stroke-linecap="butt"/>
<line x1="548.75" y1="1002" x2="548.75" y2="1011" stroke="#151412" stroke-width="3" stroke-linecap="butt"/>
<line x1="567.25" y1="1002" x2="567.25" y2="1011" stroke="#151412" stroke-width="3" stroke-linecap="butt"/>
<line x1="585.75" y1="1002" x2="585.75" y2="1011" stroke="#151412" stroke-width="3" stroke-linecap="butt"/>
<line x1="604.25" y1="1002" x2="604.25" y2="1011" stroke="#151412" stroke-width="3" stroke-linecap="butt"/>
<line x1="622.75" y1="1002" x2="622.75" y2="1011" stroke="#151412" stroke-width="3" stroke-linecap="butt"/>
<line x1="641.25" y1="1002" x2="641.25" y2="1011" stroke="#151412" stroke-width="3" stroke-linecap="butt"/>
<rect x="521.5" y="1011" width="129.0" height="15" fill="#f6f4ee" stroke="#222" stroke-width="1.5"/>
<text x="530.25" y="1024" font-size="14" fill="#1e1d1a" stroke="#1e1d1a" stroke-width="0.1" text-anchor="middle" textLength="15" lengthAdjust="spacingAndGlyphs">13</text>
<line x1="539.5" y1="1011" x2="539.5" y2="1026" stroke="#222" stroke-width="1.5" stroke-linecap="butt"/>
<text x="548.75" y="1024" font-size="14" fill="#1e1d1a" stroke="#1e1d1a" stroke-width="0.1" text-anchor="middle" textLength="15" lengthAdjust="spacingAndGlyphs">08</text>
<line x1="558.0" y1="1011" x2="558.0" y2="1026" stroke="#222" stroke-width="1.5" stroke-linecap="butt"/>
<text x="567.25" y="1024" font-size="14" fill="#1e1d1a" stroke="#1e1d1a" stroke-width="0.1" text-anchor="middle" textLength="15" lengthAdjust="spacingAndGlyphs">14</text>
<line x1="576.5" y1="1011" x2="576.5" y2="1026" stroke="#222" stroke-width="1.5" stroke-linecap="butt"/>
<text x="585.75" y="1024" font-size="14" fill="#1e1d1a" stroke="#1e1d1a" stroke-width="0.1" text-anchor="middle" textLength="15" lengthAdjust="spacingAndGlyphs">17</text>
<line x1="595.0" y1="1011" x2="595.0" y2="1026" stroke="#222" stroke-width="1.5" stroke-linecap="butt"/>
<text x="604.25" y="1024" font-size="14" fill="#1e1d1a" stroke="#1e1d1a" stroke-width="0.1" text-anchor="middle" textLength="15" lengthAdjust="spacingAndGlyphs">16</text>
<line x1="613.5" y1="1011" x2="613.5" y2="1026" stroke="#222" stroke-width="1.5" stroke-linecap="butt"/>
<text x="622.75" y="1024" font-size="14" fill="#1e1d1a" stroke="#1e1d1a" stroke-width="0.1" text-anchor="middle" textLength="15" lengthAdjust="spacingAndGlyphs">15</text>
<line x1="632.0" y1="1011" x2="632.0" y2="1026" stroke="#222" stroke-width="1.5" stroke-linecap="butt"/>
<text x="641.25" y="1024" font-size="14" fill="#1e1d1a" stroke="#1e1d1a" stroke-width="0.1" text-anchor="middle" textLength="15" lengthAdjust="spacingAndGlyphs">07</text>
<polyline points="586,1026 586,1135.5 515,1135.5" fill="none" stroke="#151412" stroke-width="3.2" stroke-linejoin="miter" stroke-linecap="butt"/>
<path d="M509.5,1130.0 L514.5,1130.0 L519.5,1135.5 L514.5,1141.0 L509.5,1141.0 L514.5,1135.5 Z" fill="#151412"/>
<rect x="398" y="1129" width="7.5" height="7" fill="#b8b6b0"/>
<rect x="396" y="1146.5" width="44" height="2.0" fill="#c8c6c0"/>
<text x="404" y="1131" font-size="14.5" fill="#2b2a26" stroke="#2b2a26" stroke-width="0.5" text-anchor="start" textLength="94.5" lengthAdjust="spacingAndGlyphs">Vem do Terminal</text>
<text x="395" y="1149.5" font-size="14.5" fill="#2b2a26" stroke="#2b2a26" stroke-width="0.5" text-anchor="start" textLength="103.5" lengthAdjust="spacingAndGlyphs">2 da Central CODE</text>
<polyline points="604,1026 604,1088 633,1088" fill="none" stroke="#151412" stroke-width="3.2" stroke-linejoin="miter" stroke-linecap="butt"/>
<rect x="633.5" y="1082.5" width="35.5" height="11.5" fill="#fdfcf6" stroke="#9a968c" stroke-width="1"/>
<text x="651.25" y="1092.21" font-size="11" fill="#2b2a26" stroke="#2b2a26" stroke-width="0.35" text-anchor="middle" textLength="31" lengthAdjust="spacingAndGlyphs">BR/VD</text>
<polyline points="669.5,1088 677,1088 677,1125.5 669.5,1125.5" fill="none" stroke="#151412" stroke-width="3.2" stroke-linejoin="miter" stroke-linecap="butt"/>
<polyline points="623,1026 623,1068 633,1068" fill="none" stroke="#151412" stroke-width="3.2" stroke-linejoin="miter" stroke-linecap="butt"/>
<rect x="633.5" y="1062.0" width="35.5" height="12.5" fill="#fdfcf6" stroke="#9a968c" stroke-width="1"/>
<text x="651.25" y="1072.21" font-size="11" fill="#2b2a26" stroke="#2b2a26" stroke-width="0.35" text-anchor="middle" textLength="31" lengthAdjust="spacingAndGlyphs">BR/PR</text>
<polyline points="669.5,1068 687,1068 687,1139.5 669.5,1139.5" fill="none" stroke="#151412" stroke-width="3.2" stroke-linejoin="miter" stroke-linecap="butt"/>
<rect x="656.5" y="1120.0" width="12.5" height="11.5" fill="#fdfcf6" stroke="#77736a" stroke-width="1"/>
<text x="662.75" y="1130.97" font-size="14.5" fill="#2b2a26" stroke="#2b2a26" stroke-width="0.1" text-anchor="middle" textLength="8" lengthAdjust="spacingAndGlyphs">2</text>
<rect x="656.5" y="1133.0" width="12.5" height="12.5" fill="#fdfcf6" stroke="#77736a" stroke-width="1"/>
<text x="662.75" y="1144.47" font-size="14.5" fill="#2b2a26" stroke="#2b2a26" stroke-width="0.1" text-anchor="middle" textLength="8" lengthAdjust="spacingAndGlyphs">3</text>
<polyline points="641.3,1026 641.3,1041 652,1041" fill="none" stroke="#151412" stroke-width="3.2" stroke-linejoin="miter" stroke-linecap="butt"/>
<rect x="652.5" y="1034.5" width="36.0" height="11.0" fill="#fdfcf6" stroke="#9a968c" stroke-width="1"/>
<text x="670.5" y="1043.96" font-size="11" fill="#2b2a26" stroke="#2b2a26" stroke-width="0.35" text-anchor="middle" textLength="16" lengthAdjust="spacingAndGlyphs">MR</text>
<polyline points="689,1041 701.5,1041 701.5,1012 728,1012" fill="none" stroke="#151412" stroke-width="3.2" stroke-linejoin="miter" stroke-linecap="butt"/>
<rect x="728.5" y="992.0" width="12.0" height="12.5" fill="#fdfcf6" stroke="#77736a" stroke-width="1"/>
<text x="734.5" y="1003.65" font-size="15" fill="#2b2a26" stroke="#2b2a26" stroke-width="0.1" text-anchor="middle" textLength="9" lengthAdjust="spacingAndGlyphs">3</text>
<rect x="728.5" y="1005.5" width="12.0" height="13.0" fill="#fdfcf6" stroke="#77736a" stroke-width="1"/>
<text x="734.5" y="1017.4" font-size="15" fill="#2b2a26" stroke="#2b2a26" stroke-width="0.1" text-anchor="middle" textLength="9" lengthAdjust="spacingAndGlyphs">2</text>
<rect x="728.5" y="1019.5" width="12.0" height="12.5" fill="#fdfcf6" stroke="#77736a" stroke-width="1"/>
<text x="734.5" y="1031.15" font-size="15" fill="#2b2a26" stroke="#2b2a26" stroke-width="0.1" text-anchor="middle" textLength="9" lengthAdjust="spacingAndGlyphs">1</text>
<polyline points="728,998 715,998 715,975 736,975" fill="none" stroke="#151412" stroke-width="3.2" stroke-linejoin="miter" stroke-linecap="butt"/>
<rect x="736.5" y="968.5" width="37.0" height="10.5" fill="#fdfcf6" stroke="#9a968c" stroke-width="1"/>
<text x="755.0" y="977.71" font-size="11" fill="#2b2a26" stroke="#2b2a26" stroke-width="0.35" text-anchor="middle" textLength="31" lengthAdjust="spacingAndGlyphs">MR/BR</text>
<polyline points="774,975 796.5,975 796.5,829 785,829" fill="none" stroke="#151412" stroke-width="3.2" stroke-linejoin="miter" stroke-linecap="butt"/>
<path d="M778.5,823.5 L783.5,823.5 L788.5,829 L783.5,834.5 L778.5,834.5 L783.5,829 Z" fill="#151412"/>
<text x="672" y="836.5" font-size="26" font-weight="bold" fill="#000" text-anchor="start" textLength="96" lengthAdjust="spacingAndGlyphs">LINHA 15</text>
<text x="800" y="855" font-size="17.5" fill="#000" stroke="#000" stroke-width="0.5" text-anchor="start" textLength="28" lengthAdjust="spacingAndGlyphs">F22</text>
<text x="800" y="877" font-size="17.5" fill="#000" stroke="#000" stroke-width="0.5" text-anchor="start" textLength="33" lengthAdjust="spacingAndGlyphs">7.5A</text>
<rect x="791.5" y="900.5" width="10.5" height="10.0" fill="#fefefc"/>
<rect x="802" y="884.5" width="11" height="42.0" fill="#8a3c22"/>
<rect x="810" y="884.5" width="3" height="42.0" fill="#6a2c18"/>
<rect x="792" y="890" width="10" height="10.5" fill="#eb9a50"/>
<rect x="792" y="910.5" width="10" height="10.5" fill="#eb9a50"/>
<polyline points="728,1025.5 715,1025.5 715,1132" fill="none" stroke="#151412" stroke-width="3.2" stroke-linejoin="miter" stroke-linecap="butt"/>
<rect x="711.0" y="1056.0" width="10.0" height="41.5" fill="#fdfcf6" stroke="#9a968c" stroke-width="1"/>
<text transform="translate(719.78,1076.75) rotate(-90)" font-size="10.5" fill="#2b2a26" text-anchor="middle" textLength="33" lengthAdjust="spacingAndGlyphs">PR/AZ</text>
<line x1="707.0" y1="1132" x2="723.0" y2="1132" stroke="#151412" stroke-width="2" stroke-linecap="butt"/>
<line x1="709.0" y1="1137" x2="721.0" y2="1137" stroke="#151412" stroke-width="2" stroke-linecap="butt"/>
<line x1="711.0" y1="1142" x2="719.0" y2="1142" stroke="#151412" stroke-width="2" stroke-linecap="butt"/>
<line x1="713.0" y1="1147" x2="717.0" y2="1147" stroke="#151412" stroke-width="2" stroke-linecap="butt"/>
<line x1="741.8" y1="998.4" x2="764" y2="1021" stroke="#151412" stroke-width="3" stroke-linecap="butt"/>
<line x1="741.8" y1="1012" x2="757.5" y2="1029" stroke="#151412" stroke-width="3" stroke-linecap="butt"/>
<line x1="741.8" y1="1026" x2="751" y2="1036" stroke="#151412" stroke-width="3" stroke-linecap="butt"/>
<g transform="translate(782.7,1056.8) rotate(49.3)"><rect x="-37" y="-17" width="74" height="34" rx="5" fill="url(#cyl2)"/><rect x="-37" y="-17" width="20" height="34" rx="4" fill="#85817b"/><rect x="-37" y="-17" width="20" height="6" rx="3" fill="#5a5754"/><rect x="-19" y="-17" width="3" height="34" fill="#4a4744"/><rect x="-14" y="1" width="20" height="2.2" fill="#262422"/><rect x="-14" y="6" width="20" height="2.2" fill="#262422"/><rect x="-14" y="11" width="20" height="2.2" fill="#262422"/></g>
<text x="754" y="1133.5" font-size="14.5" fill="#3a3834" stroke="#3a3834" stroke-width="0.3" text-anchor="start" textLength="57" lengthAdjust="spacingAndGlyphs">Sensor de</text>
<text x="736" y="1151.7" font-size="14.5" fill="#3a3834" stroke="#3a3834" stroke-width="0.3" text-anchor="start" textLength="94" lengthAdjust="spacingAndGlyphs">Velocidade - VSS</text>
<ellipse cx="630" cy="1131" rx="18" ry="14" fill="#dc8a5c" opacity="0.8" filter="url(#blur1)"/>
<path d="M632,1129 C636,1140 650,1140 652,1132" fill="none" stroke="#a8b070" stroke-width="3"/>
<line x1="640" y1="1126" x2="656.5" y2="1126" stroke="#222" stroke-width="2" stroke-linecap="butt"/>
<line x1="642" y1="1137" x2="656.5" y2="1138" stroke="#3aa8d8" stroke-width="2" stroke-linecap="butt"/>
<path d="M569,1218 L572,1216 L618,1147" fill="none" stroke="#3a3a36" stroke-width="1.5"/>
<line x1="627.5" y1="1121" x2="618.4" y2="1146" stroke="#161614" stroke-width="6" stroke-linecap="round"/>
<path d="M607,1137 L623,1134 L619,1145 Z" fill="#161614"/>
<circle cx="627.5" cy="1122.5" r="2.5" fill="#9a9a94"/>
<rect x="565" y="1214" width="3.8" height="11.5" rx="1.5" fill="#b09010" stroke="#5a3a08" stroke-width="0.6"/>
<line x1="50" y1="1243.5" x2="860" y2="1243.5" stroke="#f1f0ec" stroke-width="1.5" stroke-linecap="butt"/>
<rect x="530.5" y="1225.5" width="75" height="23.5" rx="8" fill="#857800" stroke="#5a2a0a" stroke-width="1.1"/>
<text x="615" y="1200.3" font-size="14.5" fill="#3a3834" stroke="#3a3834" stroke-width="0.3" text-anchor="start" textLength="88" lengthAdjust="spacingAndGlyphs">Sensor de Nível</text>
<text x="614" y="1218.5" font-size="14.5" fill="#3a3834" stroke="#3a3834" stroke-width="0.3" text-anchor="start" textLength="89" lengthAdjust="spacingAndGlyphs">de Combustível</text>
</svg></body></html>
